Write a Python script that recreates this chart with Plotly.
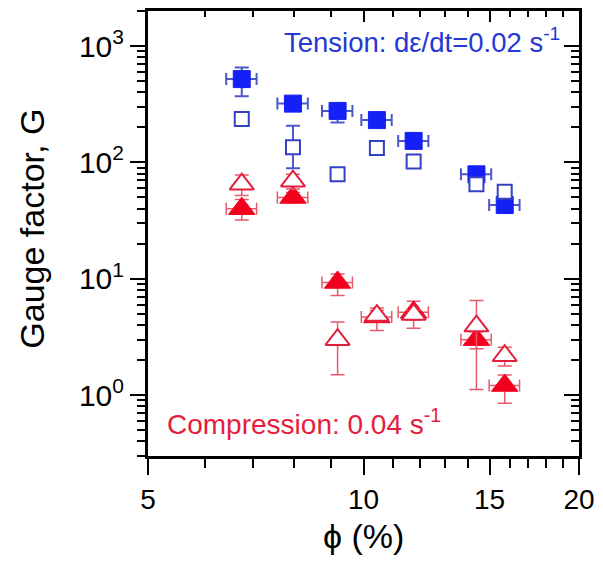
import plotly.graph_objects as go
import math

# ---------------- data ----------------
phi = [6.76, 7.97, 9.20, 10.44, 11.75, 14.38, 15.75]
phi_err = [0.33, 0.39, 0.45, 0.51, 0.57, 0.70, 0.77]

g_tension_filled = [520, 320, 277, 231, 153, 79, 43]
g_tension_filled_up = [135, 0, 0, 0, 0, 0, 0]
g_tension_filled_dn = [150, 0, 57, 0, 0, 0, 0]

g_tension_open = [236, 135, 79, 133, 102, 65, 56]
g_tension_open_up = [0, 72, 0, 0, 0, 0, 0]
g_tension_open_dn = [0, 46, 0, 0, 0, 0, 0]

g_comp_filled = [40, 50, 9.3, 4.7, 5.15, 3.0, 1.21]
g_comp_filled_up = [8, 5, 1.7, 0.9, 1.25, 0.5, 0.28]
g_comp_filled_dn = [8, 5, 2.1, 1.1, 1.4, 0.5, 0.36]

g_comp_open = [65, 69, 3.0, 4.83, 4.93, 3.92, 2.18]
g_comp_open_up = [13, 10, 1.25, 0.5, 0.5, 2.6, 0.4]
g_comp_open_dn = [13, 10, 1.5, 0.5, 0.5, 2.8, 0.4]

x_tickvals = [5, 10, 15, 20]
x_minor = [6, 7, 8, 9, 11, 12, 13, 14, 16, 17, 18, 19]
y_tickvals = [1, 10, 100, 1000]
y_ticktext = ["10<sup>0</sup>", "10<sup>1</sup>", "10<sup>2</sup>", "10<sup>3</sup>"]
y_minor = [0.3, 0.4, 0.5, 0.6, 0.7, 0.8, 0.9,
           2, 3, 4, 5, 6, 7, 8, 9,
           20, 30, 40, 50, 60, 70, 80, 90,
           200, 300, 400, 500, 600, 700, 800, 900, 2000]

x_range = [math.log10(5), math.log10(20)]
y_range = [math.log10(0.3), math.log10(2000)]

# ---------------- styles ----------------
FONT = "Liberation Sans, Arial, sans-serif"
BLUE = "#1420f5"
BLUE_LINE = "#3340c4"
BLUE_ERR = "#4a58cc"
RED = "#f2001e"
RED_LINE = "#e2203c"
RED_ERR = "#e85a6a"

fig = go.Figure()

# compression filled (drawn first)
fig.add_trace(go.Scatter(
    x=phi, y=g_comp_filled, mode="markers",
    marker=dict(symbol="triangle-up", size=23, color=RED, line=dict(color=RED, width=1)),
    error_x=dict(type="data", array=phi_err, color=RED_ERR, thickness=1.5, width=6),
    error_y=dict(type="data", symmetric=False, array=g_comp_filled_up, arrayminus=g_comp_filled_dn,
                 color=RED_ERR, thickness=1.5, width=7),
    showlegend=False))

# tension filled
fig.add_trace(go.Scatter(
    x=phi, y=g_tension_filled, mode="markers",
    marker=dict(symbol="square", size=17, color=BLUE, line=dict(color=BLUE, width=1)),
    error_x=dict(type="data", array=phi_err, color=BLUE_ERR, thickness=2, width=6),
    error_y=dict(type="data", symmetric=False, array=g_tension_filled_up, arrayminus=g_tension_filled_dn,
                 color=BLUE_ERR, thickness=2, width=7),
    showlegend=False))

# compression open
fig.add_trace(go.Scatter(
    x=phi, y=g_comp_open, mode="markers",
    marker=dict(symbol="triangle-up", size=21, color="white", line=dict(color=RED_LINE, width=2)),
    error_y=dict(type="data", symmetric=False, array=g_comp_open_up, arrayminus=g_comp_open_dn,
                 color=RED_ERR, thickness=1.5, width=7),
    showlegend=False))

# tension open
fig.add_trace(go.Scatter(
    x=phi, y=g_tension_open, mode="markers",
    marker=dict(symbol="square", size=14, color="white", line=dict(color=BLUE_LINE, width=2)),
    error_y=dict(type="data", symmetric=False, array=g_tension_open_up, arrayminus=g_tension_open_dn,
                 color=BLUE_ERR, thickness=2, width=7),
    showlegend=False))

# invisible trace for mirrored axes
fig.add_trace(go.Scatter(x=[10], y=[10], xaxis="x2", yaxis="y2", mode="markers",
                         marker=dict(opacity=0), showlegend=False, hoverinfo="skip"))

fig.update_layout(
    width=603, height=567,
    margin=dict(l=148, r=20, t=8, b=111),
    plot_bgcolor="white", paper_bgcolor="white",
    font=dict(family=FONT, color="black"),
    xaxis=dict(type="log", range=x_range, showgrid=False, zeroline=False,
               showline=True, linecolor="black", linewidth=3, mirror=True,
               tickmode="array", tickvals=x_tickvals, ticktext=[str(v) for v in x_tickvals],
               ticks="outside", ticklen=16, tickwidth=2, tickcolor="black",
               tickfont=dict(size=28, family=FONT, color="black"),
               minor=dict(tickmode="array", tickvals=x_minor, ticks="outside", ticklen=9,
                          tickwidth=2, tickcolor="black", showgrid=False)),
    yaxis=dict(type="log", range=y_range, showgrid=False, zeroline=False,
               showline=True, linecolor="black", linewidth=3, mirror=True,
               tickmode="array", tickvals=y_tickvals, ticktext=y_ticktext,
               ticks="outside", ticklen=15, tickwidth=2, tickcolor="black",
               tickfont=dict(size=30, family=FONT, color="black"),
               minor=dict(tickmode="array", tickvals=y_minor, ticks="outside", ticklen=8,
                          tickwidth=2, tickcolor="black", showgrid=False)),
    xaxis2=dict(type="log", range=x_range, overlaying="x", side="top", anchor="y",
                showgrid=False, zeroline=False, showline=False, showticklabels=False,
                tickmode="array", tickvals=x_tickvals,
                ticks="inside", ticklen=11, tickwidth=2, tickcolor="black",
                minor=dict(tickmode="array", tickvals=x_minor, ticks="inside", ticklen=6,
                           tickwidth=2, tickcolor="black", showgrid=False)),
    yaxis2=dict(type="log", range=y_range, overlaying="y", side="right", anchor="x",
                showgrid=False, zeroline=False, showline=False, showticklabels=False,
                tickmode="array", tickvals=y_tickvals,
                ticks="inside", ticklen=15, tickwidth=2, tickcolor="black",
                minor=dict(tickmode="array", tickvals=y_minor, ticks="inside", ticklen=8,
                           tickwidth=2, tickcolor="black", showgrid=False)),
    annotations=[
        dict(text="Tension: d\u03b5/dt=0.02 s<sup>-1</sup>", xref="paper", yref="paper",
             x=0.960, y=0.934, xanchor="right", yanchor="middle", showarrow=False,
             font=dict(size=27.5, family=FONT, color="#2438d4")),
        dict(text="Compression: 0.04 s<sup>-1</sup>", xref="paper", yref="paper",
             x=0.040, y=0.076, xanchor="left", yanchor="middle", showarrow=False,
             font=dict(size=28, family=FONT, color="#e41e3c")),
        dict(text="Gauge factor, G", xref="paper", yref="paper",
             x=-0.27, y=0.51, xanchor="center", yanchor="middle", textangle=-90,
             showarrow=False, font=dict(size=34, family=FONT, color="black")),
        dict(text="\u03d5 (%)", xref="paper", yref="paper",
             x=0.5, y=-0.18, xanchor="center", yanchor="middle",
             showarrow=False, font=dict(size=34, family=FONT, color="black")),
    ],
)

fig.write_html("out.html", config={"displayModeBar": False},
               post_script="document.body.style.margin='0';")
